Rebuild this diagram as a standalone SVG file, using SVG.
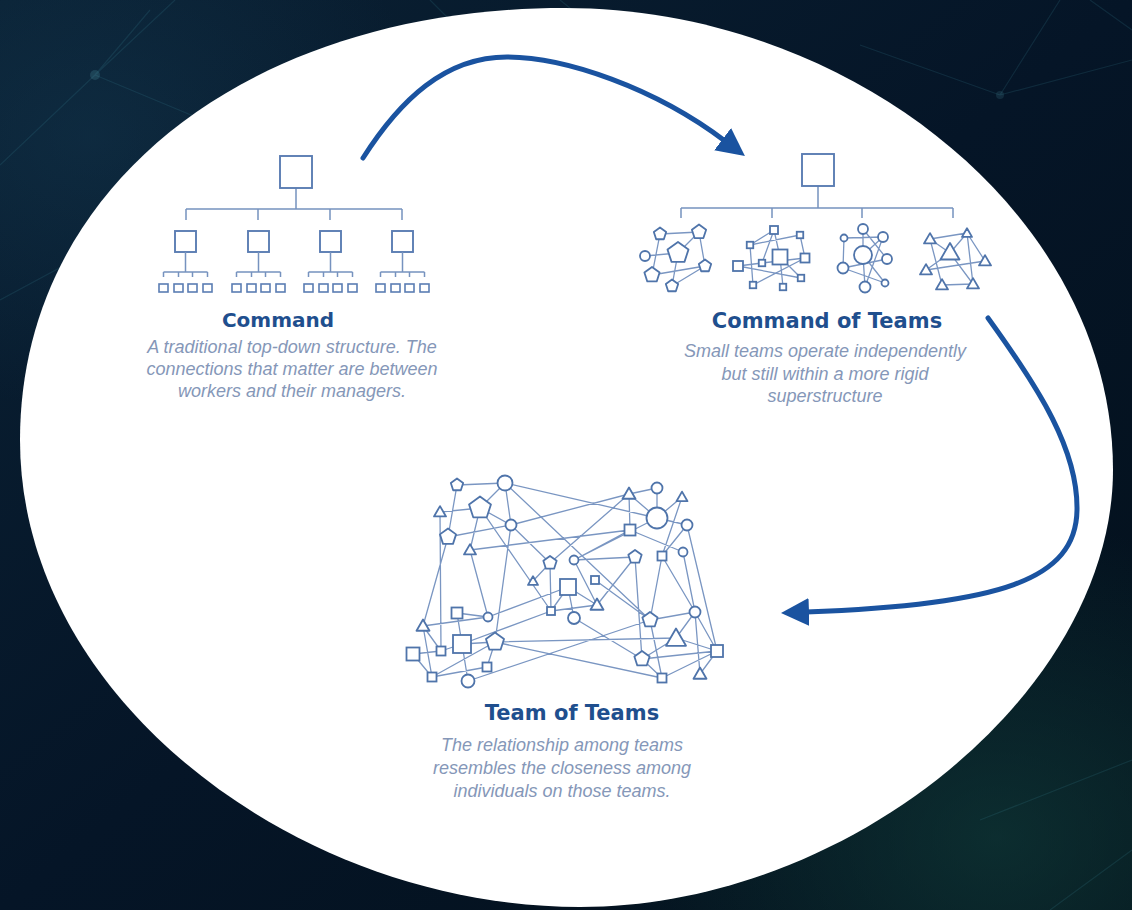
<svg xmlns="http://www.w3.org/2000/svg" xmlns:xlink="http://www.w3.org/1999/xlink" width="1132" height="910" viewBox="0 0 1132 910">
<defs>
  <linearGradient id="bg" x1="0" y1="0" x2="1" y2="1">
    <stop offset="0" stop-color="#0a2134"/>
    <stop offset="0.5" stop-color="#051527"/>
    <stop offset="1" stop-color="#03101a"/>
  </linearGradient>
  <radialGradient id="glowBR" cx="0.88" cy="0.92" r="0.35">
    <stop offset="0" stop-color="#12403c" stop-opacity="0.6"/>
    <stop offset="1" stop-color="#12403c" stop-opacity="0"/>
  </radialGradient>
  <radialGradient id="glowTL" cx="0.08" cy="0.15" r="0.3">
    <stop offset="0" stop-color="#17405a" stop-opacity="0.35"/>
    <stop offset="1" stop-color="#17405a" stop-opacity="0"/>
  </radialGradient>
  <path id="pent" d="M0,-10 L9.51,-3.09 L5.88,8.09 L-5.88,8.09 L-9.51,-3.09 Z" vector-effect="non-scaling-stroke" stroke-linejoin="round"/>
  <path id="tri" d="M0,-5.77 L5,2.89 L-5,2.89 Z" vector-effect="non-scaling-stroke" stroke-linejoin="round"/>
  <marker id="ah" markerUnits="userSpaceOnUse" markerWidth="30" markerHeight="30" refX="3" refY="14" orient="auto">
    <path d="M0,0 L28,14 L0,28 Z" fill="#1a53a0"/>
  </marker>
</defs>
<style>
  .nd { fill:#ffffff; stroke:#4f74aa; stroke-width:1.8; }
  .edge { stroke:#7a96c2; stroke-width:1.3; fill:none; }
  .tree { stroke:#7692bf; stroke-width:1.5; fill:none; }
  .box { fill:#ffffff; stroke:#5b7db3; stroke-width:1.9; }
  .sbox { fill:#ffffff; stroke:#5b7db3; stroke-width:1.6; }
  .head { font-family:"DejaVu Sans", "Liberation Sans", sans-serif; font-weight:bold; fill:#1f4f8e; text-anchor:middle; }
  .desc { font-family:"Liberation Sans", Arial, sans-serif; font-style:italic; font-size:18px; fill:#8597b8; text-anchor:middle; }
  .arrow { stroke:#1a53a0; stroke-width:5; fill:none; stroke-linecap:round; }
  .bgl { stroke:#3d8c9c; stroke-opacity:0.18; stroke-width:1.2; fill:none; }
</style>

<g id="background">
  <rect width="1132" height="910" fill="url(#bg)"/>
  <rect width="1132" height="910" fill="url(#glowTL)"/>
  <rect width="1132" height="910" fill="url(#glowBR)"/>
  <path class="bgl" d="M95,75 L175,0 M95,75 L0,165 M95,75 L215,125 M95,75 L150,10 M130,230 L0,300 M130,230 L215,125 M130,230 L170,360 M430,0 L470,40 M560,0 L610,40 M1060,0 L1000,95 M1000,95 L860,45 M1000,95 L1132,60 M1090,0 L1132,30 M980,820 L1132,760 M1050,910 L1132,850"/>
  <circle cx="95" cy="75" r="5" fill="#5fb0bc" opacity="0.2"/>
  <circle cx="130" cy="230" r="4" fill="#5fb0bc" opacity="0.15"/>
  <circle cx="1000" cy="95" r="4" fill="#5fb0bc" opacity="0.15"/>
</g>

<path id="oval" d="M565,8 C850,8 1113,215 1113,470 C1113,690 850,907 580,907 C300,907 20,700 20,440 C20,185 250,8 565,8 Z" fill="#ffffff"/>

<g id="command">
  <path class="tree" d="M296,188 V209 M186,209 H402 M186,209 V220 M258,209 V220 M330,209 V220 M402,209 V220"/>
  <rect class="box" x="280" y="156" width="32" height="32"/>
  <rect class="box" x="175" y="231" width="21" height="21"/>
  <rect class="box" x="248" y="231" width="21" height="21"/>
  <rect class="box" x="320" y="231" width="21" height="21"/>
  <rect class="box" x="392" y="231" width="21" height="21"/>
  <path class="tree" d="M185.5,252 V272 M163.5,272 H207.5 M163.5,272 V277 M178.5,272 V277 M192.5,272 V277 M207.5,272 V277
    M258.5,252 V272 M236.5,272 H280.5 M236.5,272 V277 M251.5,272 V277 M265.5,272 V277 M280.5,272 V277
    M330.5,252 V272 M308.5,272 H352.5 M308.5,272 V277 M323.5,272 V277 M337.5,272 V277 M352.5,272 V277
    M402.5,252 V272 M380.5,272 H424.5 M380.5,272 V277 M395.5,272 V277 M409.5,272 V277 M424.5,272 V277"/>
  <g class="sbox">
    <rect x="159" y="284" width="9" height="8"/><rect x="174" y="284" width="9" height="8"/><rect x="188" y="284" width="9" height="8"/><rect x="203" y="284" width="9" height="8"/>
    <rect x="232" y="284" width="9" height="8"/><rect x="247" y="284" width="9" height="8"/><rect x="261" y="284" width="9" height="8"/><rect x="276" y="284" width="9" height="8"/>
    <rect x="304" y="284" width="9" height="8"/><rect x="319" y="284" width="9" height="8"/><rect x="333" y="284" width="9" height="8"/><rect x="348" y="284" width="9" height="8"/>
    <rect x="376" y="284" width="9" height="8"/><rect x="391" y="284" width="9" height="8"/><rect x="405" y="284" width="9" height="8"/><rect x="420" y="284" width="9" height="8"/>
  </g>
  <text class="head" x="278" y="327" font-size="20">Command</text>
  <text class="desc" x="292" y="353">A traditional top-down structure. The</text>
  <text class="desc" x="292" y="375">connections that matter are between</text>
  <text class="desc" x="292" y="397">workers and their managers.</text>
</g>

<g id="command-of-teams">
  <path class="tree" d="M818,186 V208 M681,208 H953 M681,208 V218 M772,208 V218 M862,208 V218 M953,208 V218"/>
  <rect class="box" x="802" y="154" width="32" height="32"/>
  <g id="team-pentagons">
    <path class="edge" d="M660,234L699,232 M660,234L652,275 M645,256L678,253 M678,253L699,232 M699,232L705,266 M652,275L705,266 M672,286L705,266 M678,253L672,286"/>
    <g class="nd">
      <use xlink:href="#pent" transform="translate(660,234) scale(0.65)"/>
      <use xlink:href="#pent" transform="translate(699,232) scale(0.75)"/>
      <use xlink:href="#pent" transform="translate(678,253) scale(1.1)"/>
      <circle cx="645" cy="256" r="5"/>
      <use xlink:href="#pent" transform="translate(705,266) scale(0.65)"/>
      <use xlink:href="#pent" transform="translate(652,275) scale(0.8)"/>
      <use xlink:href="#pent" transform="translate(672,286) scale(0.65)"/>
    </g>
  </g>
  <g id="team-squares">
    <path class="edge" d="M750,245L800,235 M774,230L780,257 M774,230L762,263 M800,235L805,258 M750,245L753,285 M738,266L762,263 M762,263L805,258 M780,257L783,287 M780,257L801,278 M753,285L805,258 M738,266L801,278 M774,230L750,245"/>
    <g class="nd">
      <rect x="770" y="226" width="8" height="8"/>
      <rect x="796.75" y="231.75" width="6.5" height="6.5"/>
      <rect x="746.75" y="241.75" width="6.5" height="6.5"/>
      <rect x="772.5" y="249.5" width="15" height="15"/>
      <rect x="733" y="261" width="10" height="10"/>
      <rect x="758.75" y="259.75" width="6.5" height="6.5"/>
      <rect x="800.5" y="253.5" width="9" height="9"/>
      <rect x="749.75" y="281.75" width="6.5" height="6.5"/>
      <rect x="779.75" y="283.75" width="6.5" height="6.5"/>
      <rect x="797.75" y="274.75" width="6.5" height="6.5"/>
    </g>
  </g>
  <g id="team-circles">
    <path class="edge" d="M844,238L883,237 M863,229L863,255 M863,229L887,259 M844,238L843,268 M843,268L887,259 M863,255L865,287 M863,255L885,283 M843,268L885,283 M883,237L865,287 M883,237L863,255"/>
    <g class="nd">
      <circle cx="863" cy="229" r="5"/>
      <circle cx="883" cy="237" r="5"/>
      <circle cx="844" cy="238" r="3.5"/>
      <circle cx="863" cy="255" r="9"/>
      <circle cx="887" cy="259" r="5"/>
      <circle cx="843" cy="268" r="5.5"/>
      <circle cx="865" cy="287" r="5.5"/>
      <circle cx="885" cy="283" r="3.5"/>
    </g>
  </g>
  <g id="team-triangles">
    <path class="edge" d="M930,239L967,233 M967,233L950,253 M967,233L985,261 M930,239L942,285 M926,270L985,261 M926,270L950,253 M942,285L973,284 M950,253L973,284 M967,233L973,284 M930,239L950,253"/>
    <g class="nd">
      <use xlink:href="#tri" transform="translate(930,240) scale(1.2)"/>
      <use xlink:href="#tri" transform="translate(967,234) scale(1.0)"/>
      <use xlink:href="#tri" transform="translate(950,254) scale(1.9)"/>
      <use xlink:href="#tri" transform="translate(985,262) scale(1.2)"/>
      <use xlink:href="#tri" transform="translate(926,271) scale(1.2)"/>
      <use xlink:href="#tri" transform="translate(942,286) scale(1.2)"/>
      <use xlink:href="#tri" transform="translate(973,285) scale(1.2)"/>
    </g>
  </g>
  <text class="head" x="827" y="328" font-size="21">Command of Teams</text>
  <text class="desc" x="825" y="357">Small teams operate independently</text>
  <text class="desc" x="825" y="380">but still within a more rigid</text>
  <text class="desc" x="825" y="402">superstructure</text>
</g>

<g id="team-of-teams">
  <path class="edge" d="M457,485L505,483 M457,485L448,537 M505,483L480,508 M505,483L511,525 M505,483L657,518 M505,483L650,620 M440,512L480,508 M440,512L441,651 M480,508L511,525 M480,508L470,550 M480,508L551,611 M511,525L448,537 M511,525L629,494 M511,525L550,563 M511,525L495,642 M448,537L423,626 M470,550L630,530 M470,550L488,617 M629,494L657,488 M629,494L657,518 M629,494L630,530 M629,494L550,563 M657,488L657,518 M682,497L657,518 M682,497L662,556 M657,518L687,525 M657,518L574,560 M687,525L662,556 M687,525L717,651 M630,530L683,552 M630,530L574,560 M574,560L635,557 M574,560L597,605 M550,563L551,611 M550,563L533,581 M635,557L597,605 M635,557L642,659 M662,556L650,620 M662,556L695,612 M683,552L695,612 M568,587L551,611 M568,587L574,618 M568,587L597,605 M568,587L488,617 M595,580L650,620 M551,611L597,605 M551,611L462,644 M574,618L642,659 M488,617L423,626 M457,613L462,644 M423,626L441,651 M423,626L432,677 M462,644L441,651 M462,644L468,681 M441,651L413,654 M413,654L432,677 M495,642L432,677 M495,642L676,638 M495,642L487,667 M495,642L662,678 M487,667L432,677 M468,681L650,620 M650,620L695,612 M650,620L662,678 M695,612L700,674 M676,638L717,651 M642,659L676,638 M642,659L717,651 M662,678L717,651 M695,612L676,638 M642,659L662,678 M700,674L717,651 M457,613L488,617 M462,644L495,642 M695,612L717,651"/>
  <g class="nd">
    <use xlink:href="#pent" transform="translate(457,485) scale(0.65)"/>
    <circle cx="505" cy="483" r="7.5"/>
    <use xlink:href="#tri" transform="translate(440,513) scale(1.2)"/>
    <use xlink:href="#pent" transform="translate(480,508) scale(1.15)"/>
    <circle cx="511" cy="525" r="5.5"/>
    <use xlink:href="#pent" transform="translate(448,537) scale(0.85)"/>
    <use xlink:href="#tri" transform="translate(470,551) scale(1.2)"/>
    <use xlink:href="#tri" transform="translate(629,495) scale(1.3)"/>
    <circle cx="657" cy="488" r="5.5"/>
    <use xlink:href="#tri" transform="translate(682,498) scale(1.1)"/>
    <circle cx="657" cy="518" r="10.5"/>
    <circle cx="687" cy="525" r="5.5"/>
    <rect x="624.5" y="524.5" width="11" height="11"/>
    <use xlink:href="#pent" transform="translate(550,563) scale(0.7)"/>
    <circle cx="574" cy="560" r="4.5"/>
    <use xlink:href="#pent" transform="translate(635,557) scale(0.7)"/>
    <rect x="657.5" y="551.5" width="9" height="9"/>
    <circle cx="683" cy="552" r="4.5"/>
    <use xlink:href="#tri" transform="translate(533,582) scale(1.0)"/>
    <rect x="560" y="579" width="16" height="16"/>
    <rect x="591" y="576" width="8" height="8"/>
    <use xlink:href="#tri" transform="translate(597,606) scale(1.3)"/>
    <rect x="547" y="607" width="8" height="8"/>
    <circle cx="574" cy="618" r="6"/>
    <circle cx="488" cy="617" r="4.5"/>
    <rect x="451.5" y="607.5" width="11" height="11"/>
    <use xlink:href="#tri" transform="translate(423,627) scale(1.3)"/>
    <rect x="453" y="635" width="18" height="18"/>
    <rect x="436.5" y="646.5" width="9" height="9"/>
    <rect x="406.5" y="647.5" width="13" height="13"/>
    <use xlink:href="#pent" transform="translate(495,642) scale(0.95)"/>
    <rect x="482.5" y="662.5" width="9" height="9"/>
    <rect x="427.5" y="672.5" width="9" height="9"/>
    <circle cx="468" cy="681" r="6.5"/>
    <use xlink:href="#pent" transform="translate(650,620) scale(0.8)"/>
    <circle cx="695" cy="612" r="5.5"/>
    <use xlink:href="#tri" transform="translate(676,640) scale(2.0)"/>
    <rect x="711" y="645" width="12" height="12"/>
    <use xlink:href="#pent" transform="translate(642,659) scale(0.8)"/>
    <rect x="657.5" y="673.5" width="9" height="9"/>
    <use xlink:href="#tri" transform="translate(700,675) scale(1.3)"/>
  </g>
  <text class="head" x="572" y="720" font-size="21">Team of Teams</text>
  <text class="desc" x="562" y="751">The relationship among teams</text>
  <text class="desc" x="562" y="774">resembles the closeness among</text>
  <text class="desc" x="562" y="797">individuals on those teams.</text>
</g>

<g id="connectors">
  <path class="arrow" d="M363,158 C400,100 445,57 507,57 C565,57 655,88 725,141" marker-end="url(#ah)"/>
  <path class="arrow" d="M988,318 C1040,390 1078,450 1077,510 C1076,580 1000,605 806,612" marker-end="url(#ah)"/>
</g>
</svg>
